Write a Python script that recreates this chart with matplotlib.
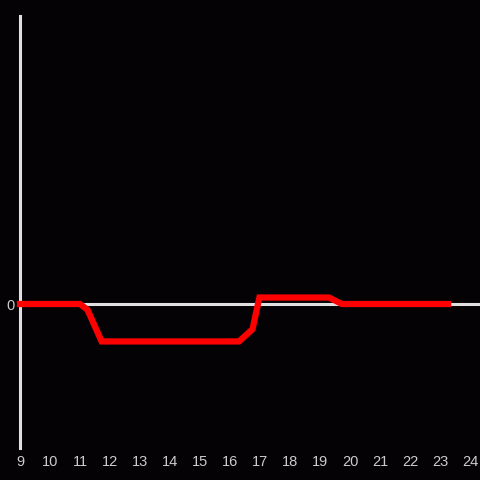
"""Step line chart on a dark background."""

import matplotlib.pyplot as plt

hours = [9, 11, 11.25, 11.72, 16.3, 16.75, 16.98, 19.3, 19.73, 23.27]
values = [0, 0, -0.04, -0.26, -0.26, -0.175, 0.045, 0.045, 0, 0]
xticks = list(range(9, 25))

bg = "#050205"
fg = "#e0e0e0"

fig = plt.figure(figsize=(4.8, 4.8), dpi=100, facecolor=bg)
ax = fig.add_axes([20 / 480, 32 / 480, 460 / 480, 432 / 480])
ax.set_facecolor(bg)

ax.axhline(0, color=fg, linewidth=2.2, zorder=1)
ax.plot(hours, values, color="#ff0000", linewidth=4.5, solid_joinstyle="miter",
        solid_capstyle="projecting", zorder=3, clip_on=False)

ax.set_xlim(9, 9 + 460 / 30)
ax.set_ylim(-1, 2)
ax.set_xticks(xticks)
ax.set_xticklabels([str(t) for t in xticks])
ax.set_yticks([0])
ax.set_yticklabels(["0"])
ax.tick_params(length=0, colors=fg, labelsize=10.5)
ax.tick_params(axis="x", pad=5)
ax.tick_params(axis="y", pad=4)
for lbl in ax.get_xticklabels() + ax.get_yticklabels():
    lbl.set_family("Liberation Sans")
    lbl.set_color("#cccccc")

for side in ["top", "right", "bottom"]:
    ax.spines[side].set_visible(False)
ax.spines["left"].set_color(fg)
ax.spines["left"].set_linewidth(2.2)

fig.savefig("out.png", dpi=100, facecolor=bg)
